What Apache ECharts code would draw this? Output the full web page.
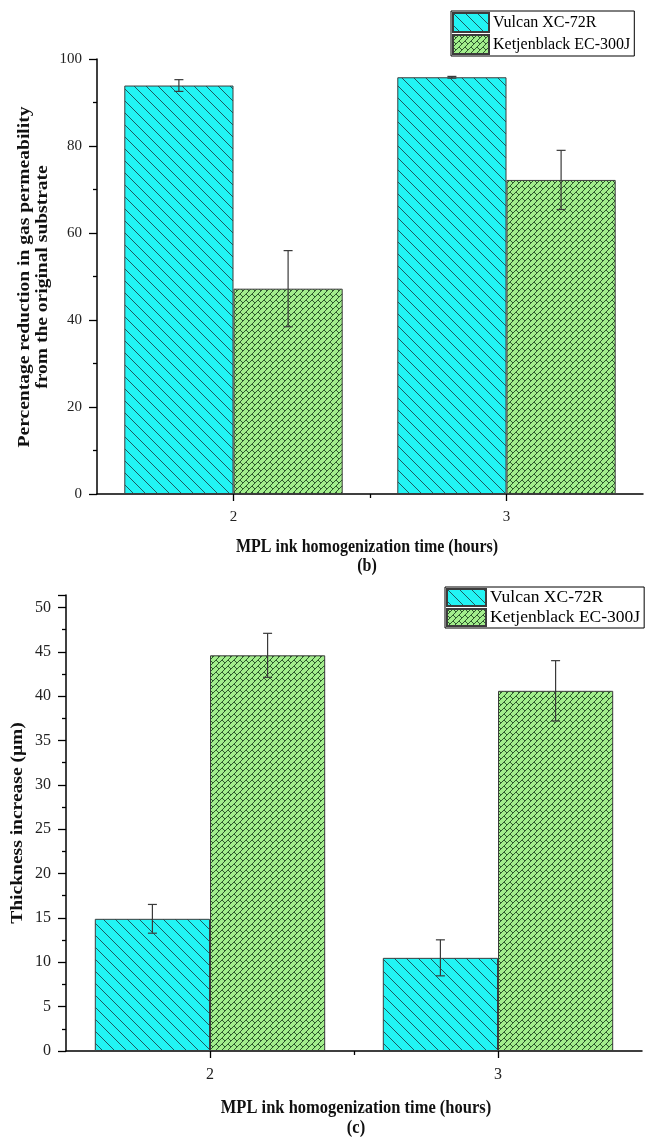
<!DOCTYPE html>
<html>
<head>
<meta charset="utf-8">
<script src="https://cdn.jsdelivr.net/npm/echarts@6/dist/echarts.min.js"></script>
<style>html,body{margin:0;padding:0;background:#fff;}#c{width:645px;height:1139px;}</style>
</head>
<body>
<div id="c"></div>
<script>
// ---- data ----
var categories = ['2', '3'];
var seriesNames = ['Vulcan XC-72R', 'Ketjenblack EC-300J'];
// panel (b): percentage reduction in gas permeability
var vulcanB = [93.9, 95.8];
var vulcanBErr = [1.35, 0.2];
var ketjenB = [47.2, 72.2];
var ketjenBErr = [8.75, 6.8];
// panel (c): thickness increase (um)
var vulcanC = [14.9, 10.5];
var vulcanCErr = [1.62, 2.03];
var ketjenC = [44.6, 40.6];
var ketjenCErr = [2.48, 3.4];
var xTickLabels = [2, 3];
var xMinorTicks = [2.5];

var FONT = '"Liberation Serif", "Times New Roman", serif';

function hatchPattern() {
  var s = 12, c = document.createElement('canvas');
  c.width = s; c.height = s;
  var g = c.getContext('2d');
  g.fillStyle = '#22F4F4'; g.fillRect(0, 0, s, s);
  g.strokeStyle = '#1d5a60'; g.lineWidth = 1;
  g.beginPath();
  for (var k = -1; k <= 1; k++) { g.moveTo(k * s - 1, -1); g.lineTo(k * s + s + 1, s + 1); }
  g.stroke();
  return c;
}
function brickPattern() {
  var s = 12, c = document.createElement('canvas');
  c.width = s; c.height = s;
  var g = c.getContext('2d');
  g.fillStyle = '#A2EE8C'; g.fillRect(0, 0, s, s);
  g.strokeStyle = '#2d5a2d'; g.lineWidth = 1;
  g.beginPath();
  for (var k = -2; k <= 6; k++) { var t = 6 * k; g.moveTo(t + 2, -2); g.lineTo(t - s - 2, s + 2); }
  for (var b = -2; b <= 6; b++) {
    var lo = 6 * b, hi = 6 * (b + 1);
    for (var m = -3; m <= 3; m++) {
      var cc = 12 * m + ((b % 2 + 2) % 2 ? 6 : 0);
      g.moveTo((lo + cc) / 2, (lo - cc) / 2);
      g.lineTo((hi + cc) / 2, (hi - cc) / 2);
    }
  }
  g.stroke();
  return c;
}
var vulcanFill = { image: hatchPattern(), repeat: 'repeat' };
var ketjenFill = { image: brickPattern(), repeat: 'repeat' };

function errData(vals, errs) {
  return vals.map(function (v, i) { return [i, v, errs[i]]; });
}
function errSeries(vals, errs, xi, yi, off) {
  return {
    type: 'custom', xAxisIndex: xi, yAxisIndex: yi, z: 10, silent: true,
    data: errData(vals, errs),
    renderItem: function (params, api) {
      var i = api.value(0), v = api.value(1), e = api.value(2);
      var band = api.size([1, 0])[0];
      var hi = api.coord([i, v + e]), lo = api.coord([i, v - e]);
      var x = hi[0] + off * band, cap = 4.5;
      var st = { stroke: '#3a3a3a', lineWidth: 1.2 };
      return { type: 'group', children: [
        { type: 'line', shape: { x1: x, y1: hi[1], x2: x, y2: lo[1] }, style: st },
        { type: 'line', shape: { x1: x - cap, y1: hi[1], x2: x + cap, y2: hi[1] }, style: st },
        { type: 'line', shape: { x1: x - cap, y1: lo[1], x2: x + cap, y2: lo[1] }, style: st }
      ] };
    }
  };
}
function barSeries(name, vals, fill, xi, yi) {
  return {
    type: 'bar', name: name, xAxisIndex: xi, yAxisIndex: yi, data: vals,
    barWidth: '40%', barGap: '0%',
    itemStyle: { color: fill, borderColor: '#3c3c3c', borderWidth: 1 }
  };
}
function valX(gi, fs) {
  return [{
    type: 'value', gridIndex: gi, position: 'bottom', min: 1.5, max: 3.5, interval: 0.5,
    axisLine: { show: true, lineStyle: { color: '#000', width: 1.5 } },
    axisTick: { show: true, length: 7, customValues: xTickLabels, lineStyle: { color: '#000', width: 1.3 } },
    axisLabel: { customValues: xTickLabels, margin: 16, fontFamily: FONT, fontSize: fs, color: '#222' },
    splitLine: { show: false }
  }, {
    type: 'value', gridIndex: gi, position: 'bottom', offset: 0, min: 1.5, max: 3.5, interval: 0.5,
    axisLine: { show: false },
    axisTick: { show: true, length: 4, customValues: xMinorTicks, lineStyle: { color: '#000', width: 1.3 } },
    axisLabel: { show: false }, splitLine: { show: false }
  }, {
    type: 'category', gridIndex: gi, position: 'bottom', data: categories, show: false, boundaryGap: true
  }];
}
function valY(gi, max, interval, fs) {
  return {
    type: 'value', gridIndex: gi, min: 0, max: max, interval: interval,
    axisLine: { show: true, lineStyle: { color: '#000', width: 1.5 } },
    axisTick: { show: true, length: 8, lineStyle: { color: '#000', width: 1.3 } },
    minorTick: { show: true, splitNumber: 2, length: 4, lineStyle: { color: '#000', width: 1.3 } },
    axisLabel: { margin: 15, fontFamily: FONT, fontSize: fs, color: '#222',
      formatter: function (v) { return (Math.abs(v / interval - Math.round(v / interval)) < 1e-6) ? String(v) : ''; } },
    splitLine: { show: false }, minorSplitLine: { show: false }
  };
}
function legendBox(left, top, iw, ih, fs) {
  return {
    data: seriesNames, orient: 'vertical', left: left, top: top,
    itemWidth: iw, itemHeight: ih, itemGap: 1, padding: [1, 4, 1, 1],
    borderColor: '#000', borderWidth: 1, backgroundColor: '#fff',
    icon: 'rect', selectedMode: false,
    textStyle: { fontFamily: FONT, fontSize: fs, color: '#000', padding: [0, 0, 0, -1] }
  };
}

var chart = echarts.init(document.getElementById('c'), null, { renderer: 'canvas' });
chart.setOption({
  animation: false,
  backgroundColor: '#fff',
  grid: [
    { left: 97, top: 59, width: 546, height: 435 },
    { left: 66, top: 595, width: 576, height: 456 }
  ],
  xAxis: valX(0, 15).concat(valX(1, 16)),
  yAxis: [valY(0, 100, 20, 15), valY(1, 51.4, 5, 16)],
  legend: [legendBox(451, 11, 36, 19, 16), legendBox(445, 587, 39, 17, 17.5)],
  series: [
    barSeries(seriesNames[0], vulcanB, vulcanFill, 2, 0),
    barSeries(seriesNames[1], ketjenB, ketjenFill, 2, 0),
    errSeries(vulcanB, vulcanBErr, 2, 0, -0.2),
    errSeries(ketjenB, ketjenBErr, 2, 0, 0.2),
    barSeries(seriesNames[0], vulcanC, vulcanFill, 5, 1),
    barSeries(seriesNames[1], ketjenC, ketjenFill, 5, 1),
    errSeries(vulcanC, vulcanCErr, 5, 1, -0.2),
    errSeries(ketjenC, ketjenCErr, 5, 1, 0.2)
  ],
  graphic: [
    { type: 'text', x: 34, y: 277, rotation: Math.PI / 2, scaleX: 1.22,
      style: { text: 'Percentage reduction in gas permeability\nfrom the original substrate', font: 'bold 16px ' + FONT,
        fill: '#111', align: 'center', verticalAlign: 'middle', lineHeight: 18 } },
    { type: 'text', x: 367, y: 547, scaleY: 1.15,
      style: { text: 'MPL ink homogenization time (hours)', font: 'bold 16px ' + FONT, fill: '#111', align: 'center', verticalAlign: 'middle' } },
    { type: 'text', x: 367, y: 566, scaleY: 1.15,
      style: { text: '(b)', font: 'bold 16px ' + FONT, fill: '#111', align: 'center', verticalAlign: 'middle' } },
    { type: 'text', x: 18, y: 823, rotation: Math.PI / 2, scaleX: 1.22,
      style: { text: 'Thickness increase (\u03bcm)', font: 'bold 16px ' + FONT, fill: '#111', align: 'center', verticalAlign: 'middle' } },
    { type: 'text', x: 356, y: 1108, scaleY: 1.15,
      style: { text: 'MPL ink homogenization time (hours)', font: 'bold 16.5px ' + FONT, fill: '#111', align: 'center', verticalAlign: 'middle' } },
    { type: 'text', x: 356, y: 1128, scaleY: 1.15,
      style: { text: '(c)', font: 'bold 16.5px ' + FONT, fill: '#111', align: 'center', verticalAlign: 'middle' } }
  ]
});
</script>
</body>
</html>
